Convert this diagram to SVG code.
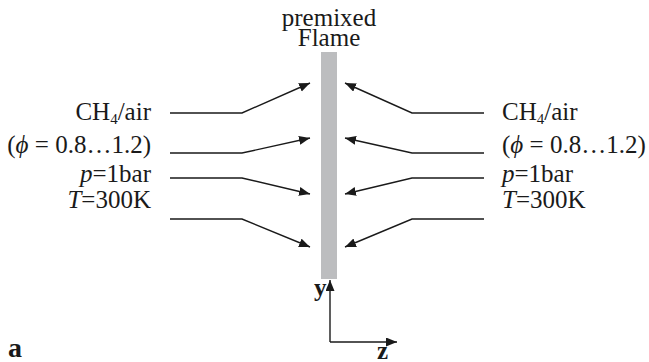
<svg xmlns="http://www.w3.org/2000/svg" width="649" height="362" viewBox="0 0 649 362">
<style>
text{font-family:"Liberation Serif","Times New Roman",serif;fill:#1a1a1a}
.lbl{font-size:25px}
.ttl{font-size:25px}
.sub{font-size:15px}
.it{font-style:italic}
.ax{font-size:25px;font-weight:bold}
.flow{fill:none;stroke:#1a1a1a;stroke-width:1.4}
</style>
<defs>
<marker id="ah" markerUnits="userSpaceOnUse" markerWidth="12" markerHeight="10" refX="11" refY="4.5" orient="auto">
<path d="M0,0 L11,4.5 L0,9 z" fill="#1a1a1a"/>
</marker>
</defs>
<rect width="649" height="362" fill="#fff"/>
<g id="flame">
<rect x="321" y="52" width="16" height="227" fill="#bcbdbf"/>
<text class="ttl" x="329" y="26" text-anchor="middle">premixed</text>
<text class="ttl" x="329" y="46" text-anchor="middle">Flame</text>
</g>
<g id="left-label">
<text class="lbl" x="151" y="120" text-anchor="end">CH<tspan class="sub" dy="4">4</tspan><tspan dy="-4">/air</tspan></text>
<text class="lbl" x="151" y="153" text-anchor="end">(<tspan class="it">ϕ</tspan> = 0.8…1.2)</text>
<text class="lbl" x="151" y="182" text-anchor="end"><tspan class="it">p</tspan>=1bar</text>
<text class="lbl" x="151" y="208" text-anchor="end"><tspan class="it">T</tspan>=300K</text>
</g>
<g id="right-label">
<text class="lbl" x="502" y="120">CH<tspan class="sub" dy="4">4</tspan><tspan dy="-4">/air</tspan></text>
<text class="lbl" x="502" y="153">(<tspan class="it">ϕ</tspan> = 0.8…1.2)</text>
<text class="lbl" x="502" y="182"><tspan class="it">p</tspan>=1bar</text>
<text class="lbl" x="502" y="208"><tspan class="it">T</tspan>=300K</text>
</g>
<g id="connectors">
<polyline class="flow" points="170,113 242,113 310,83" marker-end="url(#ah)"/>
<polyline class="flow" points="170,153 242,153 310,138" marker-end="url(#ah)"/>
<polyline class="flow" points="170,178 242,178 310,194" marker-end="url(#ah)"/>
<polyline class="flow" points="170,219 242,219 310,247" marker-end="url(#ah)"/>
<polyline class="flow" points="484,113 412,113 345,83" marker-end="url(#ah)"/>
<polyline class="flow" points="484,153 412,153 345,138" marker-end="url(#ah)"/>
<polyline class="flow" points="484,178 412,178 345,194" marker-end="url(#ah)"/>
<polyline class="flow" points="484,219 412,219 345,247" marker-end="url(#ah)"/>
</g>
<g id="axes">
<polyline class="flow" points="330,342 330,280" marker-end="url(#ah)"/>
<polyline class="flow" points="330,342 397,342" marker-end="url(#ah)"/>
<text class="ax" x="314" y="296">y</text>
<text class="ax" x="377" y="359">z</text>
</g>
<text class="ax" x="8" y="357" style="font-size:28px">a</text>
</svg>
